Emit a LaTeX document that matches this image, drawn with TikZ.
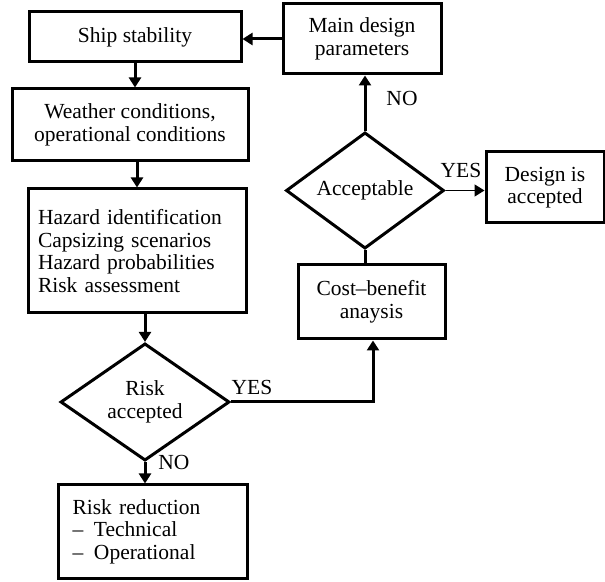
\documentclass[tikz,border=0pt]{standalone}
\usepackage{fontspec}
\setmainfont{Liberation Serif}
\usetikzlibrary{shapes.geometric,arrows.meta}
\begin{document}
\begin{tikzpicture}[x=1pt,y=1pt,
  every node/.style={font=\fontsize{21.5}{22.5}\selectfont},
  box/.style={draw,line width=3pt,rectangle,inner sep=0pt,align=center},
  dia/.style={draw,line width=3pt,diamond,inner sep=0pt,align=center},
  lbl/.style={inner sep=0pt},
  line/.style={line width=3pt},
  arr/.style={line width=3pt,-{Triangle[length=10pt,width=12pt]}},
  thinarr/.style={line width=1.5pt,-{Triangle[length=10pt,width=12pt]}}]
\useasboundingbox (0,0) rectangle (605,581);
\node[box,minimum width=212,minimum height=50] (ship) at (135,544) {Ship stability};
\node[box,minimum width=236,minimum height=72] (weather) at (130,456) {Weather conditions,\\operational conditions};
\node[box,minimum width=218,minimum height=124,text width=198,align=left] (hazard) at (137,330) {Hazard identification\\Capsizing scenarios\\Hazard probabilities\\Risk assessment};
\node[dia,minimum width=169,minimum height=94] (risk) at (145,179) {Risk\\accepted};
\node[box,minimum width=189,minimum height=93,text width=160,align=left] (reduc) at (152.5,49.5) {Risk reduction\\\textendash{} \,Technical\\\textendash{} \,Operational};
\node[box,minimum width=147,minimum height=74] (cost) at (371.5,279) {Cost\textendash benefit\\anaysis};
\node[dia,minimum width=158,minimum height=95] (accept) at (365,390.5) {Acceptable};
\node[box,minimum width=158,minimum height=70] (main) at (362,542) {Main design\\parameters};
\node[box,minimum width=118,minimum height=71] (design) at (545,393.5) {Design is\\accepted};

\draw[arr] (main.west) -- (main.west -| ship.east);
\draw[arr] (ship.south) -- (ship.south |- weather.north);
\draw[arr] (hazard.north |- weather.south) -- (hazard.north);
\draw[arr] (risk.north |- hazard.south) -- (risk.north);
\draw[arr] (risk.south) -- (risk.south |- reduc.north);
\coordinate (bend) at (373,179);
\draw[arr] (risk.east) -- (bend) -- (bend |- cost.south);
\draw[line] (accept.south |- cost.north) -- (accept.south);
\draw[arr] (accept.north) -- (accept.north |- main.south);
\draw[thinarr] (accept.east) -- (accept.east -| design.west);

\node[lbl] (yes1) at (252,194) {YES};
\node[lbl] (no1) at (174,119) {NO};
\node[lbl] (no2) at (402,483) {NO};
\node[lbl] (yes2) at (461,411) {YES};
\end{tikzpicture}
\end{document}
